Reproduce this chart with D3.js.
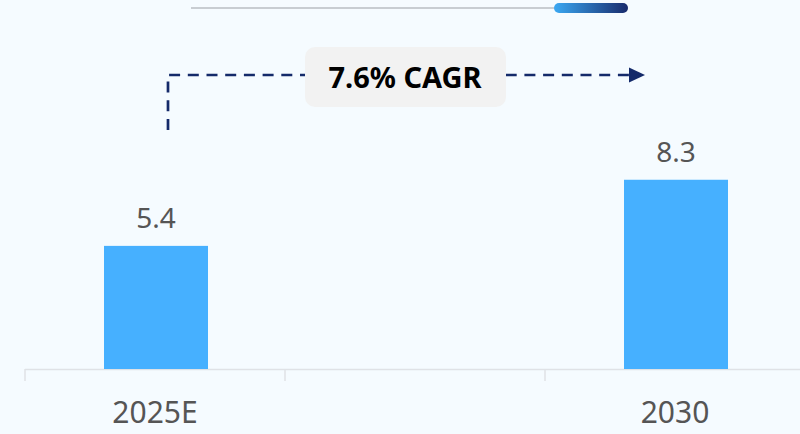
<!DOCTYPE html>
<html>
<head>
<meta charset="utf-8">
<script src="https://cdn.jsdelivr.net/npm/d3@7"></script>
<style>
  html, body { margin: 0; padding: 0; background: #f5fbff; }
  svg { display: block; font-family: "Noto Sans", "Open Sans", sans-serif; }
</style>
</head>
<body>
<svg width="800" height="434"></svg>
<script>
// chart values
const categories = ["2025E", "", "2030"];
const values = [5.4, null, 8.3];
const cagrLabel = "7.6% CAGR";

const svg = d3.select("svg"),
    margin = {top: 141, right: -5, bottom: 65, left: 25},
    width = +svg.attr("width") - margin.left - margin.right,
    height = +svg.attr("height") - margin.top - margin.bottom;

const defs = svg.append("defs");
const grad = defs.append("linearGradient").attr("id", "slider");
grad.append("stop").attr("offset", "0%").attr("stop-color", "#3ba8f2");
grad.append("stop").attr("offset", "100%").attr("stop-color", "#182b6c");

// scroll indicator at the top
svg.append("line")
    .attr("x1", 191).attr("x2", 556).attr("y1", 8).attr("y2", 8)
    .attr("stroke", "#c8cdd2").attr("stroke-width", 2);
svg.append("rect")
    .attr("x", 554).attr("y", 3).attr("width", 74).attr("height", 10)
    .attr("rx", 5).attr("fill", "url(#slider)");

const g = svg.append("g").attr("transform", "translate(" + margin.left + "," + margin.top + ")");

const x = d3.scaleBand().domain(categories).range([0, width]).padding(0);
const y = d3.scaleLinear().domain([0, 10]).range([height, 0]);

const bw = x.bandwidth() * 0.4;
const data = categories.map((c, i) => ({cat: c, value: values[i]})).filter(d => d.value != null);

// axis line and boundary ticks
g.append("line")
    .attr("x1", 0).attr("x2", width).attr("y1", height + 0.5).attr("y2", height + 0.5)
    .attr("stroke", "#dfe2e6").attr("stroke-width", 1.5);
g.selectAll(".btick")
  .data(categories.map(c => x(c)).concat([x.range()[1]]))
  .enter().append("line")
    .attr("x1", d => d).attr("x2", d => d)
    .attr("y1", height).attr("y2", height + 12)
    .attr("stroke", "#dfe2e6").attr("stroke-width", 1.5);

const xAxis = g.append("g")
    .attr("transform", "translate(0," + height + ")")
    .call(d3.axisBottom(x).tickSize(0).tickPadding(33));
xAxis.select(".domain").remove();
xAxis.selectAll("text")
    .attr("font-family", "\"Noto Sans\", sans-serif")
    .attr("font-size", 30)
    .attr("fill", "#555");

g.selectAll(".bar")
  .data(data)
  .enter().append("rect")
    .attr("x", d => x(d.cat) + (x.bandwidth() - bw) / 2 + 1)
    .attr("y", d => y(d.value))
    .attr("width", bw)
    .attr("height", d => height - y(d.value))
    .attr("fill", "#46b0ff");

g.selectAll(".val")
  .data(data)
  .enter().append("text")
    .attr("x", d => x(d.cat) + x.bandwidth() / 2 + 1)
    .attr("y", d => y(d.value) - 18)
    .attr("text-anchor", "middle")
    .attr("font-size", 28)
    .attr("fill", "#555")
    .text(d => d.value.toFixed(1));

// CAGR annotation
const navy = "#142a6a";
const startX = margin.left + x(categories[0]) + x.bandwidth() / 2 + 13;
svg.append("path")
    .attr("d", "M" + startX + ",130V75H630")
    .attr("fill", "none")
    .attr("stroke", navy)
    .attr("stroke-width", 2.7)
    .attr("stroke-dasharray", "11,7.7");
svg.append("path")
    .attr("d", "M629,67.5L645,75L629,82.5Z")
    .attr("fill", navy);
svg.append("rect")
    .attr("x", 305).attr("y", 47).attr("width", 201).attr("height", 60)
    .attr("rx", 10).attr("fill", "#f2f2f2");
svg.append("text")
    .attr("x", 405).attr("y", 88)
    .attr("text-anchor", "middle")
    .attr("font-size", 29)
    .attr("font-weight", "bold")
    .attr("fill", "#000")
    .text(cagrLabel);
</script>
</body>
</html>
